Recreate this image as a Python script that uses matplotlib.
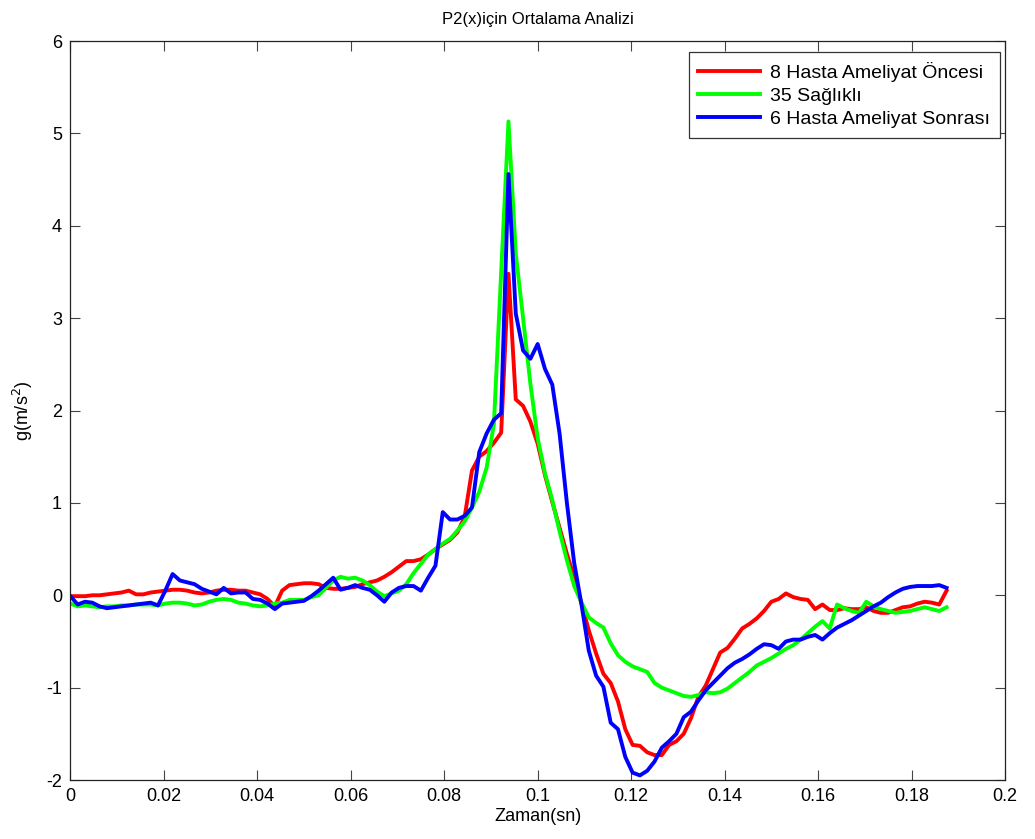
import numpy as np
import matplotlib
matplotlib.use('Agg')
import matplotlib.pyplot as plt
plt.rcParams['font.family'] = ['Liberation Sans', 'DejaVu Sans']
plt.rcParams['axes.unicode_minus'] = False

# sampling: 640 Hz, 121 samples
fs = 640.0
n_samples = 121

pre_op = [-0.01, -0.01, -0.01, 0.0, 0.0, 0.01, 0.02, 0.03, 0.05, 0.01,
          0.01, 0.03, 0.04, 0.05, 0.06, 0.06, 0.05, 0.03, 0.02, 0.03,
          0.05, 0.06, 0.06, 0.05, 0.05, 0.03, 0.01, -0.04, -0.12, 0.05,
          0.11, 0.12, 0.13, 0.13, 0.12, 0.08, 0.07, 0.07, 0.08, 0.09,
          0.12, 0.14, 0.16, 0.20, 0.25, 0.31, 0.37, 0.37, 0.39, 0.44,
          0.50, 0.55, 0.60, 0.68, 0.85, 1.35, 1.50, 1.56, 1.65, 1.76,
          3.48, 2.12, 2.05, 1.88, 1.64, 1.30, 1.01, 0.73, 0.45, 0.19,
          -0.09, -0.38, -0.63, -0.85, -0.95, -1.15, -1.45, -1.62, -1.63, -1.70,
          -1.73, -1.73, -1.62, -1.58, -1.50, -1.33, -1.10, -0.98, -0.80, -0.62,
          -0.57, -0.47, -0.36, -0.31, -0.25, -0.17, -0.07, -0.04, 0.02, -0.02,
          -0.04, -0.05, -0.15, -0.10, -0.16, -0.16, -0.14, -0.15, -0.15, -0.13,
          -0.17, -0.19, -0.19, -0.16, -0.13, -0.12, -0.09, -0.07, -0.08, -0.10,
          0.05]

healthy = [-0.09, -0.12, -0.11, -0.12, -0.13, -0.12, -0.12, -0.11, -0.11, -0.10,
           -0.10, -0.10, -0.11, -0.09, -0.08, -0.08, -0.09, -0.11, -0.10, -0.07,
           -0.05, -0.04, -0.05, -0.08, -0.09, -0.11, -0.12, -0.11, -0.09, -0.08,
           -0.05, -0.05, -0.05, -0.02, 0.0, 0.08, 0.16, 0.20, 0.18, 0.19,
           0.16, 0.11, 0.04, -0.01, 0.02, 0.05, 0.12, 0.24, 0.34, 0.44,
           0.50, 0.56, 0.61, 0.70, 0.80, 0.95, 1.12, 1.38, 1.85, 3.50,
           5.13, 3.70, 3.00, 2.29, 1.70, 1.32, 1.03, 0.69, 0.38, 0.10,
           -0.08, -0.24, -0.30, -0.35, -0.52, -0.65, -0.72, -0.77, -0.80, -0.83,
           -0.95, -1.00, -1.03, -1.06, -1.09, -1.10, -1.08, -1.05, -1.06, -1.05,
           -1.01, -0.95, -0.89, -0.83, -0.76, -0.72, -0.68, -0.63, -0.58, -0.54,
           -0.48, -0.41, -0.34, -0.28, -0.36, -0.10, -0.14, -0.17, -0.19, -0.07,
           -0.12, -0.15, -0.17, -0.19, -0.18, -0.17, -0.15, -0.13, -0.15, -0.17,
           -0.13]

post_op = [-0.01, -0.10, -0.07, -0.08, -0.12, -0.14, -0.13, -0.12, -0.11, -0.10,
           -0.09, -0.08, -0.11, 0.05, 0.23, 0.16, 0.14, 0.12, 0.07, 0.04,
           0.01, 0.08, 0.02, 0.03, 0.03, -0.04, -0.05, -0.09, -0.15, -0.09,
           -0.08, -0.07, -0.06, -0.01, 0.05, 0.12, 0.19, 0.06, 0.08, 0.11,
           0.08, 0.06, 0.00, -0.07, 0.03, 0.08, 0.10, 0.10, 0.05, 0.19,
           0.32, 0.90, 0.82, 0.82, 0.86, 0.95, 1.55, 1.75, 1.90, 1.97,
           4.56, 3.05, 2.65, 2.56, 2.72, 2.45, 2.28, 1.75, 1.00, 0.35,
           -0.10, -0.60, -0.87, -0.99, -1.38, -1.45, -1.75, -1.92, -1.95, -1.90,
           -1.80, -1.65, -1.58, -1.50, -1.32, -1.26, -1.14, -1.03, -0.95, -0.87,
           -0.79, -0.73, -0.69, -0.64, -0.58, -0.53, -0.54, -0.58, -0.50, -0.48,
           -0.48, -0.45, -0.43, -0.48, -0.41, -0.35, -0.31, -0.27, -0.22, -0.17,
           -0.12, -0.08, -0.02, 0.03, 0.07, 0.09, 0.10, 0.10, 0.10, 0.11,
           0.08]

labels = ['8 Hasta Ameliyat Öncesi', '35 Sağlıklı', '6 Hasta Ameliyat Sonrası']
xticks = [0, 0.02, 0.04, 0.06, 0.08, 0.1, 0.12, 0.14, 0.16, 0.18, 0.2]
xtick_labels = ['0', '0.02', '0.04', '0.06', '0.08', '0.1', '0.12', '0.14', '0.16', '0.18', '0.2']
yticks = [-2, -1, 0, 1, 2, 3, 4, 5, 6]

t = np.arange(n_samples) / fs

fig = plt.figure(figsize=(10.35, 8.39), dpi=100)
ax = fig.add_axes([0.068, 0.0703, 0.903, 0.8808])

ax.plot(t, pre_op, color=(1, 0, 0), lw=2.8, label=labels[0])
ax.plot(t, healthy, color=(0, 1, 0), lw=2.8, label=labels[1])
ax.plot(t, post_op, color=(0, 0, 1), lw=2.8, label=labels[2])

ax.set_xlim(0, 0.2)
ax.set_ylim(-2, 6)
ax.set_xticks(xticks)
ax.set_xticklabels(xtick_labels)
ax.set_yticks(yticks)
ax.set_yticklabels([str(v) for v in yticks])
ax.tick_params(direction='in', top=True, right=True, labelsize=13,
               length=7, color='#444444', pad=6)
for sp in ax.spines.values():
    sp.set_color('#222222')
    sp.set_linewidth(0.9)

ax.set_title('P2(x)için Ortalama Analizi', fontsize=12, pad=12)
ax.set_xlabel('Zaman(sn)', fontsize=13, labelpad=2)
ax.set_ylabel('g(m/s$^2$)', fontsize=13, labelpad=8)

leg = ax.legend(loc='upper right', bbox_to_anchor=(0.9946, 0.985),
                fontsize=14, fancybox=False, framealpha=1,
                edgecolor='#333333', handlelength=3.2, handletextpad=0.5,
                labelspacing=0.28, borderpad=0.5, borderaxespad=0.0)
leg.get_frame().set_linewidth(0.9)

plt.savefig('out.png', dpi=100)
plt.close()
